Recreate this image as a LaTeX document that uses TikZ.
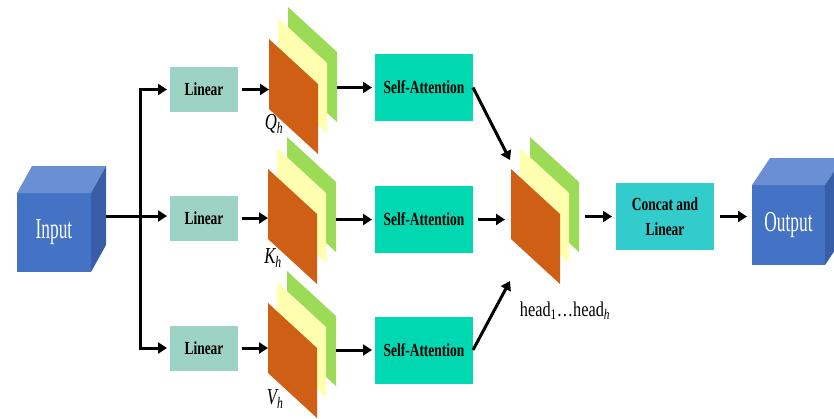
\documentclass[tikz,border=0pt]{standalone}
\usepackage{fontspec}
\setmainfont{Liberation Serif}
\usetikzlibrary{arrows.meta,calc}

\definecolor{cubefront}{RGB}{68,114,196}
\definecolor{cubetop}{RGB}{106,143,210}
\definecolor{cubeside}{RGB}{55,94,166}
\definecolor{linfill}{RGB}{157,211,196}
\definecolor{attnfill}{RGB}{0,216,178}
\definecolor{catfill}{RGB}{51,204,204}
\definecolor{planea}{RGB}{207,95,21}
\definecolor{planeb}{RGB}{255,255,175}
\definecolor{planec}{RGB}{155,219,85}

% condensed text
\newcommand{\slim}[2][0.73]{\scalebox{#1}[1]{#2}}

% three stacked planes, orange in front; #1 name, #2 top left corner of the front one
\newcommand{\planes}[2]{%
   \begin{scope}[-,shift={#2}]
      \fill[planec] (19,-32) -- ++(49,45) -- ++(0,70) -- ++(-49,-45) -- cycle;
      \fill[planeb] (9,-21) -- ++(49,45) -- ++(0,70) -- ++(-49,-45) -- cycle;
      \fill[planea] (0,0) -- ++(49,45) -- ++(0,70) -- ++(-49,-45) -- cycle;
      \coordinate (#1-l) at (0,35);
      \coordinate (#1-r) at (68,35);
   \end{scope}}

\begin{document}
\begin{tikzpicture}
   [x=1bp,y=-1bp,->,line width=3bp,>={Triangle[length=9bp,width=11bp]},
    every node/.style={inner sep=0pt,outer sep=0pt},
    cubebox/.style={fill=cubefront,text=white,minimum width=74bp,minimum height=79bp,
       font=\fontsize{29}{30}\selectfont},
    linbox/.style={fill=linfill,minimum width=68bp,minimum height=45bp,
       font=\fontsize{18.5}{25}\selectfont\bfseries},
    attnbox/.style={linbox,fill=attnfill,minimum width=98bp,minimum height=67bp},
    catbox/.style={attnbox,fill=catfill,align=center},
    sub/.style={font=\fontsize{23}{23}\selectfont\itshape}]
   \useasboundingbox (0,0) rectangle (834,418);

   % cubes
   \node[cubebox] (in) at (54,232.5) {\slim[0.6]{Input}};
   \node[cubebox,minimum width=73bp,minimum height=80bp] (out) at (788.5,225) {\slim[0.6]{Output}};
   \begin{scope}[-]
      \fill[cubetop] (in.north west) -- ++(15,-27) -- ($(in.north east)+(15,-27)$) -- (in.north east) -- cycle;
      \fill[cubeside] (in.north east) -- ++(15,-27) -- ($(in.south east)+(15,-27)$) -- (in.south east) -- cycle;
      \fill[cubetop] (out.north west) -- ++(18,-27) -- ($(out.north east)+(18,-27)$) -- (out.north east) -- cycle;
      \fill[cubeside] (out.north east) -- ++(18,-27) -- ($(out.south east)+(18,-27)$) -- (out.south east) -- cycle;
   \end{scope}

   % linear layers
   \node[linbox] (linq) at (204,89.5) {\slim{Linear}};
   \node[linbox] (link) at (204,218) {\slim{Linear}};
   \node[linbox] (linv) at (204,348) {\slim{Linear}};

   \planes{q}{(269,39)}
   \planes{k}{(268,169)}
   \planes{v}{(268,303)}
   \planes{head}{(511,169)}

   \node[sub] (ql) at (274,124) {\slim{Q\textsubscript{h}}};
   \node[sub] (kl) at (273,258) {\slim{K\textsubscript{h}}};
   \node[sub] (vl) at (275,399) {\slim{V\textsubscript{h}}};
   \node[font=\fontsize{21}{21}\selectfont] (hl) at (565,311)
      {\slim[0.78]{head\textsubscript{1}\ldots head\textsubscript{\itshape h}}};

   \node[attnbox] (attq) at (424,87.5) {\slim{Self-Attention}};
   \node[attnbox] (attk) at (424,219.5) {\slim{Self-Attention}};
   \node[attnbox] (attv) at (424,350) {\slim{Self-Attention}};
   \node[catbox] (cat) at (665,216.5) {\slim{Concat and}\\\slim{Linear}};

   % split the input three ways
   \coordinate (split) at (140,216);
   \draw[-] ($(split -| in.east)+(15,0)$) -- (split);
   \begin{scope}[shorten >=3bp]
      \draw (split) |- (linq.west);
      \draw (split) -- (split -| link.west);
      \draw (split) |- (linv.west);
   \end{scope}

   \draw[shorten <=4bp] (linq.east) -- (linq.east -| q-l);
   \draw[shorten <=4bp] (link.east) -- (link.east -| k-l);
   \draw[shorten <=4bp] (linv.east) -- (linv.east -| v-l);

   \draw[shorten >=3bp] (q-r |- attq.west) -- (attq.west);
   \draw[shorten >=3bp] (k-r |- attk.west) -- (attk.west);
   \draw[shorten >=3bp] (v-r |- attv.west) -- (attv.west);

   % heads
   \coordinate (hq) at (510,160);
   \coordinate (hv) at (510,281);
   \draw (attq.east) -- (hq);
   \draw[shorten <=5bp,shorten >=6bp] (attk.east) -- (attk.east -| head-l);
   \draw (attv.east) -- (hv);

   \draw[shorten <=6bp,shorten >=4bp] (head-r |- cat.west) -- (cat.west);
   \draw[shorten <=6bp,shorten >=5bp] (cat.east) -- (out.west |- cat.east);
\end{tikzpicture}
\end{document}
